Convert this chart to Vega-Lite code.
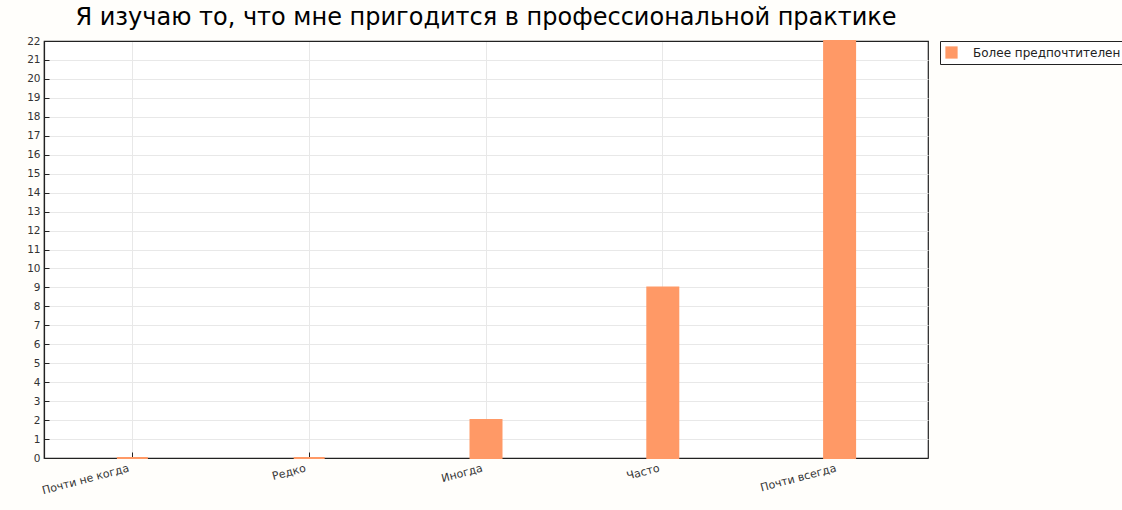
{
  "$schema": "https://vega.github.io/schema/vega-lite/v6.json",
  "autosize": {"type": "none"},
  "padding": {"left": 44, "top": 41, "right": 194, "bottom": 52},
  "width": 884,
  "height": 417,
  "background": "#fffefb",
  "title": {
    "text": "Я изучаю то, что мне пригодится в профессиональной практике",
    "font": "DejaVu Sans",
    "fontSize": 24,
    "fontWeight": "normal",
    "color": "#000000",
    "anchor": "middle",
    "offset": 6
  },
  "config": {
    "view": {"stroke": "#222222", "strokeWidth": 1.2, "fill": "#ffffff"},
    "axis": {
      "labelFont": "DejaVu Sans",
      "labelColor": "#333333",
      "labelFontSize": 10.5,
      "gridColor": "#e8e8e8",
      "gridWidth": 1,
      "domain": true,
      "domainColor": "#222222",
      "domainWidth": 1.2,
      "tickColor": "#222222"
    }
  },
  "data": {
    "values": [
      {"category": "Почти не когда", "count": 0, "series": "Более предпочтителен"},
      {"category": "Редко", "count": 0, "series": "Более предпочтителен"},
      {"category": "Иногда", "count": 2, "series": "Более предпочтителен"},
      {"category": "Часто", "count": 9, "series": "Более предпочтителен"},
      {"category": "Почти всегда", "count": 22, "series": "Более предпочтителен"}
    ]
  },
  "mark": {"type": "bar", "size": 31, "stroke": "#FF9966", "strokeWidth": 2},
  "encoding": {
    "x": {
      "field": "category",
      "type": "nominal",
      "sort": null,
      "scale": {"paddingInner": 0, "paddingOuter": 0},
      "axis": {
        "title": null,
        "labelAngle": -15,
        "labelAlign": "right",
        "labelBaseline": "top",
        "labelFontSize": 11,
        "labelPadding": 10,
        "labelOffset": -5,
        "bandPosition": 0.5,
        "grid": true,
        "ticks": true,
        "tickSize": -6
      }
    },
    "y": {
      "field": "count",
      "type": "quantitative",
      "scale": {"domain": [0, 22], "nice": false},
      "axis": {
        "title": null,
        "values": [0,1,2,3,4,5,6,7,8,9,10,11,12,13,14,15,16,17,18,19,20,21,22],
        "labelPadding": 9,
        "tickSize": -5,
        "grid": true,
        "gridColor": {"condition": {"test": "datum.value === 22", "value": "#222222"}, "value": "#e8e8e8"}
      }
    },
    "color": {
      "field": "series",
      "type": "nominal",
      "scale": {"range": ["#FF9966"]},
      "legend": {
        "title": null,
        "orient": "none",
        "legendX": 896,
        "legendY": 0,
        "symbolType": "square",
        "symbolSize": 150,
        "symbolStrokeWidth": 0,
        "labelFont": "DejaVu Sans",
        "labelFontSize": 12,
        "labelColor": "#222222",
        "labelLimit": 400,
        "labelOffset": 15,
        "strokeColor": "#222222",
        "fillColor": "#ffffff",
        "padding": 5
      }
    }
  }
}
